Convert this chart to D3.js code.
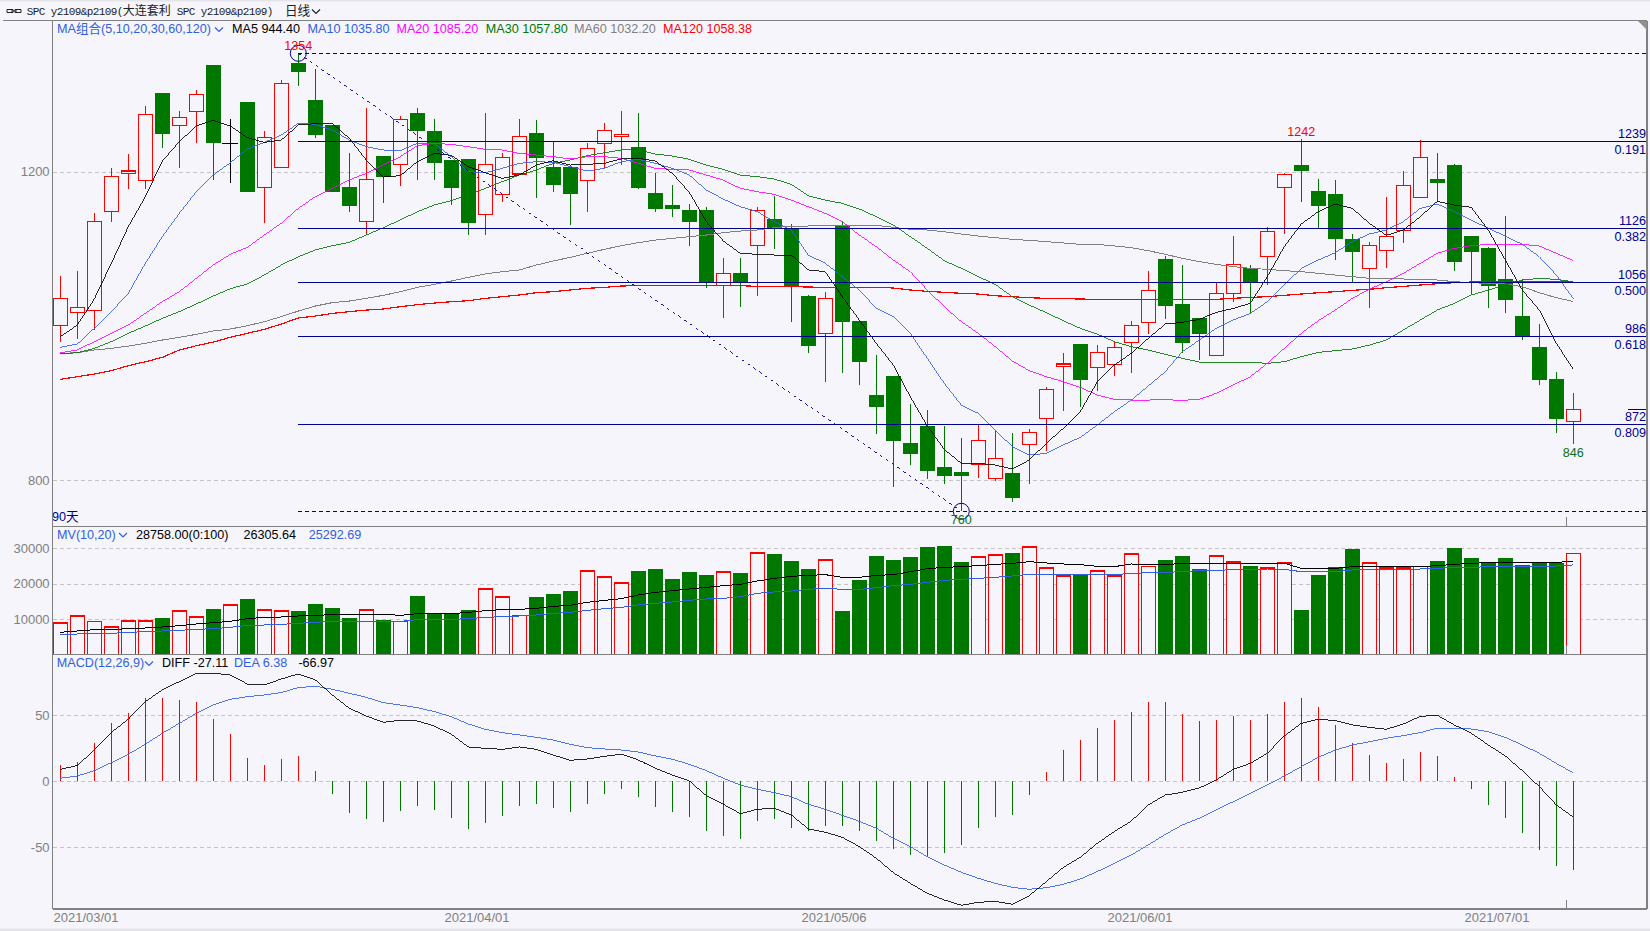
<!DOCTYPE html>
<html><head><meta charset="utf-8">
<script src="https://cdn.jsdelivr.net/npm/d3@7/dist/d3.min.js"></script>
<style>
html,body{margin:0;padding:0;background:#f5f5fb;overflow:hidden}
svg{display:block}
text{font-family:"Liberation Sans","Noto Sans CJK SC",sans-serif;font-size:12.6px}
.tick text{fill:#808080;font-size:13px;font-weight:normal}
</style></head><body><svg id="c" width="1650" height="931"></svg>
<script>
const opens=[1001,1017.6,1020,1149,1197.9,1189.2,1302.5,1260.6,1278.7,1338.8,
1237.2,1290.8,1180.1,1206,1341.4,1293.4,1260.6,1180.6,1136,1220.8,
1210,1276.5,1253.2,1215.6,1216.9,1145.1,1171,1197.4,1250.6,1206.5,
1206.5,1189.2,1237.2,1246.3,1232.5,1172.8,1157.2,1150.8,1150.8,1052.6,
1068.6,1105,1139.1,1127,1039.2,990.8,1131.7,1006.8,910.8,935.4,
848.5,870.6,817.4,810.9,820.9,802.3,809.6,846.8,880.5,948,
976.9,946.7,950.6,979.1,1004.6,1087.2,1028.8,1010.7,962.2,1042.7,
1075.1,1090.2,1180.1,1209.1,1175.4,1171.5,1113.1,1075.1,1098.4,1124.4,
1167.2,1190.9,1209.1,1117,1101.5,1060.8,1013.2,973,931.5,876.6];
const closes=[1036,1024.5,1136,1194.4,1201.3,1274.8,1249.7,1270.9,1300.8,1238.1,
1237.2,1174.5,1245,1315,1330.2,1248.4,1174.5,1156.4,1190.5,1194,
1268.3,1253.6,1212.1,1179.7,1134.3,1210,1219,1246.3,1218.6,1183.6,
1171.9,1230.7,1254.1,1248.9,1179.7,1152.5,1152.5,1135.6,1056.9,1068.6,
1056.9,1150.3,1127,1052.6,974.8,1036.2,1005.9,954,895.7,851.6,
834.7,812.7,806.2,806.2,852,828.7,777.6,862.4,918.1,951,
930.7,966.1,972.6,1001.1,1046.6,1026.7,978.7,990.3,1042.7,1080.3,
1056.9,1123.1,1197,1201.3,1156.4,1113.1,1096.7,1105,1116.6,1182.7,
1219,1186.2,1083.7,1096.7,1052.6,1034.5,985.6,930.7,880.1,892.2];
const highs=[1065,1071.6,1146.4,1205,1224,1285.6,1302.5,1279,1306.4,1338.8,
1268.8,1290.8,1253.2,1319.3,1354,1333.6,1260.6,1224.2,1283,1220.8,
1272.2,1283,1268.8,1215.6,1216.9,1276.5,1224.2,1268.8,1267.5,1239.8,
1206.5,1237.2,1263.1,1278.7,1276.5,1198.7,1183.2,1158.5,1154.6,1088.5,
1088.5,1154.2,1169.3,1132.6,1040.5,1044,1135.6,1006.8,962.7,935.4,
899.1,891.3,870.6,855,872.8,865.4,861.5,866.7,920.7,965.3,
976.9,975.6,980,1006.8,1071.6,1091.5,1079.4,1010.7,1056.5,1117,
1079.4,1128.3,1198.3,1242.4,1191,1189.7,1119.6,1108.8,1167.6,1201.3,
1241.1,1224.7,1210.4,1117,1102.8,1143,1060.8,1002.9,940.6,913.4];
const lows=[979,983.4,995,1135.6,1178.4,1178.4,1231.6,1205.6,1238.1,1189.7,
1186.2,1174.5,1134.3,1206,1312,1244.1,1174.5,1148.6,1119.2,1160.3,
1182.3,1189.7,1189.7,1157.2,1118.8,1118.8,1161.6,1197.4,1166.7,1174.5,
1131.7,1148.6,1205.6,1209.5,1178.4,1148.6,1142.1,1104.5,1050,1010.2,
1024.5,1039.6,1100.6,1005.9,964.8,928.1,939.8,924.2,860.6,791.9,
820.4,801.9,795.8,760,803.6,799.3,772.5,795.8,838.6,890,
895.7,916.4,935.9,939.8,990.3,1009.8,965.7,956.2,962.2,1031.9,
1016.7,1053.5,1119.6,1161.6,1127,1085.9,1056.9,1024.1,1075.5,1108.4,
1167.2,1161.6,1071.6,1041.8,1024.1,1017.6,982.6,924.2,861.9,846.8];
const ma5=[986.4,1001.6,1035.3,1081.6,1129.1,1168,1214.3,1239.4,1259.7,1267,
1259.7,1244.6,1238.5,1241.5,1261,1262.7,1263.1,1243.7,1215.6,1193.5,
1195.3,1213.4,1224.2,1221.6,1207,1199.2,1191.8,1196.1,1209.1,1214.7,
1209.1,1210,1211.3,1216.9,1217.8,1214.3,1198.3,1173.7,1135.6,1110.6,
1094.5,1093.3,1092.4,1092.4,1073,1070.8,1038.3,1008.1,977.8,949.7,
908.6,870.6,840.3,822.2,822.2,820,814.8,826.5,848.1,867.6,
889.2,928.1,949.7,964.8,984.3,1002.9,1005,1008.9,1018,1023.2,
1029.7,1064.3,1103.2,1132.6,1148.6,1158.5,1152.9,1133.5,1117.9,1124.8,
1142.1,1162,1157.2,1154.2,1124.8,1085.9,1047,1021,977.8,944.4];
const ma10=[972.6,976.9,997.3,1018.9,1042.7,1081.6,1116.2,1146.4,1174.5,1196.1,
1212.1,1229.9,1238.5,1248,1263.1,1261.8,1254.5,1241.5,1232.9,1228.6,
1227.7,1237.2,1237.2,1219.9,1200.5,1199.2,1204.8,1211.3,1213.4,1212.6,
1207,1201.3,1204.8,1213.4,1216.5,1211.3,1204.8,1196.1,1176.7,1165,
1155,1148.6,1135.6,1124.8,1092.4,1081.6,1064.3,1047,1023.2,1012.4,
990.8,958.3,925.9,897.8,887,865.4,843.8,833,835.1,846,
855.9,871.9,889.2,904.3,922.5,941.1,967,982.1,997.3,1008.1,
1016.7,1031.8,1053.5,1075.1,1085.9,1095.4,1109.7,1119.6,1124.8,1135.6,
1152.9,1158.5,1148.6,1137.8,1127,1117,1106.2,1090.2,1066.4,1035.8];
const ma20=[965.7,969.2,980,990.8,1001.6,1016.7,1031.9,1044.8,1062.1,1079.4,
1093.3,1102.3,1118.3,1133.5,1152.9,1168,1178.8,1189.7,1198.3,1209.1,
1219.9,1234.2,1237.2,1235.9,1232.9,1229.4,1228.6,1224.2,1222.1,1219.9,
1216.9,1219.9,1219.9,1217.8,1211.3,1204.8,1203.5,1202.6,1196.1,1189.7,
1178.8,1174.5,1171.1,1163.7,1155,1146.4,1135.6,1118.3,1103.2,1085.9,
1070.8,1047,1025.4,1005.9,990.8,973.5,954.9,942.4,934.6,928.1,
920.7,910.8,905.2,904.3,904.3,904.7,903.9,905.2,913,923.8,
934.6,951.9,971.3,990.8,1007.2,1021,1036.2,1047.9,1057.8,1068.6,
1081.6,1094.6,1101,1104.5,1106.2,1106.2,1106.2,1104.1,1094.6,1085.2];
const ma30=[964,965.7,971.3,980,990.8,1000.3,1010.2,1018.9,1028.8,1039.2,
1048.7,1054.8,1066.4,1079.4,1090.2,1098.9,1104.5,1108.8,1118.3,1127.8,
1137.8,1148.6,1157.2,1162.9,1170.2,1178.8,1187.5,1196.1,1202.6,1211.3,
1215.6,1221.2,1225.1,1228.6,1228.6,1223.4,1220.8,1216.5,1209.1,1203.5,
1196.1,1194,1190.9,1184,1169.3,1163.7,1159.4,1152.1,1142.1,1131.3,
1116.2,1101,1085,1075.1,1064.3,1054.3,1038.3,1027.5,1017.6,1007.2,
997.3,989.9,980,973.5,969.2,963.5,958.3,953.6,953.2,953.2,
953.2,951.9,954,960.5,966.1,968.3,970.5,975.6,982.1,995.1,
1008.1,1021,1029.7,1040.5,1047,1053.5,1060,1062.1,1060.8,1057.8];
const ma60=[964.8,965.7,969.2,971.3,974.3,977.8,982.1,985.6,989.5,993.8,
996.4,1000.7,1005.9,1012.4,1019.7,1026.2,1030.6,1032.7,1036.2,1040.1,
1044.8,1050.4,1054.3,1058.6,1063.4,1067.8,1070.8,1072.9,1079.4,1084.6,
1089.4,1094.6,1099.7,1104.5,1108.4,1111.8,1114,1116.2,1118.3,1121.4,
1123.5,1124.8,1127.8,1130,1130,1130.9,1131.3,1130.9,1130.9,1128.3,
1125.7,1124.8,1122.6,1119.6,1117,1114.9,1112.7,1111.4,1109.7,1108,
1106.2,1106.2,1104.1,1101.9,1098,1093.3,1088.1,1083.8,1080.3,1077.3,
1075.1,1073.8,1072.1,1070.8,1068.6,1066.4,1064.3,1062.1,1061.7,1061.3,
1060.8,1060,1057.8,1056.5,1055.6,1054.8,1051.3,1043.5,1037,1032.2];
const ma120=[931.1,934.6,938,942.4,948.8,954,959.6,969.2,974.8,979.5,
985.6,990.8,996,1002.9,1010.7,1013.2,1016.7,1018.9,1021,1022.3,
1025.4,1028,1030.1,1031.8,1033.1,1036.2,1038.3,1040.5,1043.5,1044.8,
1047,1049.2,1050.4,1052.2,1052.6,1052.6,1052.6,1052.6,1052.6,1052.6,
1052.6,1051.7,1051.3,1051.3,1050.9,1050.4,1050.4,1050.4,1050.4,1049.6,
1047,1045.3,1044,1042.7,1041.8,1039.6,1038.3,1037,1036.2,1035.8,
1035.3,1034.9,1034.9,1034.9,1034.9,1034.9,1034.9,1034.9,1034.9,1036.2,
1037.5,1038.3,1040.1,1041.8,1043.5,1044.8,1046.6,1047.9,1050,1051.7,
1053.5,1055.2,1056.5,1057.4,1057.8,1058.2,1058.4,1058.4,1058.4,1058.4];
const volumes=[9047,11028,9424,7914,9613,9613,10555,12443,10745,13103,
14141,15934,12726,12443,12537,14519,13387,10555,12726,9990,
9424,16785,11971,11594,12820,18670,16406,11122,16500,17350,
18200,23765,22067,20368,23859,24425,21595,23576,22727,23482,
23293,28860,28671,26690,24425,26879,12537,21311,28105,26973,
27822,30653,30936,26409,27727,28293,28954,30559,24614,22350,
23010,23765,22350,28577,24990,26973,28105,24425,28011,26312,
25085,24614,26030,12820,22727,24990,30087,26030,24614,24614,
25085,26690,30370,27539,26124,27539,25557,25935,26030,28758];
const mv10=[6217,6594,6971,6971,7254,7443,7726,8104,8575,8953,
9330,10085,10462,10556,10840,11028,11217,11312,11312,11312,
11028,11500,11500,11500,11878,12350,12632,12727,13010,13576,
13859,14708,15274,15746,16785,17538,18010,18482,18954,19426,
19803,20747,21500,22067,22350,22539,21784,21784,22350,22539,
23388,24237,24614,24803,25086,25463,25747,26218,25842,25557,
25368,24896,24803,25557,25274,25368,25747,25557,25747,25747,
25747,25747,25747,24332,24332,24332,24803,24803,24803,24803,
24803,25086,25463,25747,25935,25935,25935,25935,26030,26305];
const mv20=[5461,5744,5933,5933,6217,6405,6594,6783,7066,7254,
7632,8198,8292,8481,8764,9047,9330,9330,9330,9424,
9330,9802,9802,9802,10179,10368,10745,10840,11122,11594,
11878,12443,12915,13292,13953,14425,14802,15274,15651,15840,
16312,17255,17632,17916,18388,18670,18388,18388,18859,19426,
19803,20368,20934,21217,21500,21784,22161,22633,22633,22633,
22633,22633,22633,22822,23105,23199,23388,23671,23671,24048,
24048,24143,24048,23388,23388,23388,23859,24048,24048,24048,
24143,24332,24614,24614,24803,24803,24803,24803,24992,25292];
const diff=[9.1,11.9,23.7,37.1,47,60.4,69.2,75.5,81.8,81.8,
80.6,73.7,73,77.5,81.3,76.8,65.4,55.3,49.5,44.7,
46.2,45.7,41.9,35.6,26,25,24.2,26,24.2,19.9,
15.9,16.9,18.9,20.5,16.2,9.8,4.8,0.3,-10.9,-17.4,
-24.5,-21.2,-20.5,-25.5,-36.1,-38.6,-42.4,-49.5,-58.3,-69.2,
-77.3,-84.8,-89.9,-93.9,-91.7,-90.9,-93.2,-86.6,-76,-65.2,
-57.6,-47,-38.1,-30.1,-17.9,-10.4,-8.3,-5.1,1,9.1,
13.6,21.2,34.3,43.9,47,46,42.7,40.9,39.4,43.4,
49.2,50,42.7,36.4,27.5,19.2,8.1,-4,-17.9,-27.11];
const dea=[2.3,4,8.1,14.1,20.5,28,36.4,43.9,51.5,57.8,
62.1,64.1,65.4,67.2,71,72,69.7,66.7,63.6,59.6,
57.8,55.8,52.8,49,43.4,39.4,36.9,35.1,33.3,31.3,
28,25.5,24.5,23.7,22.2,19.2,16.7,12.9,8.1,2.3,
-2.8,-6.1,-8.6,-11.6,-17.4,-21.2,-25.8,-30.3,-35.6,-43.2,
-49.5,-57.1,-63.4,-68.9,-73.5,-77.3,-80.3,-81.8,-80.6,-78,
-74,-68.4,-62.1,-55.8,-48.2,-40.2,-33.1,-28,-21.7,-15.4,
-9.1,-2.8,4,11.1,18.2,23.7,27.5,30,32.6,34.6,
36.9,40.2,40.2,39.6,37.6,33.3,27.5,21.2,13.6,6.38];
const macdHist=[12.4,14.4,29,44.2,51.5,63.1,63.1,61.6,60.4,47.2,
35.9,17.7,12.4,16.9,19.2,7.8,-9.6,-24,-28.3,-30.6,
-22.2,-18.7,-21.7,-27.5,-36.1,-31.3,-26,-18.4,-17.2,-19.9,
-23,-17.2,-9.6,-5.8,-11.6,-19.4,-23,-26.8,-37.4,-41.2,
-43.4,-29.8,-28.8,-35.6,-37.6,-33.6,-33.6,-37.6,-44.9,-51.5,
-55.6,-56.3,-54,-48,-35.1,-26.8,-25.3,-10.1,7.1,23.7,
31.3,40.4,46.5,52.5,60.1,60.1,51,45.7,46.5,49.5,
46.5,51,60.1,63.1,56.3,42.7,28.8,19.9,13.9,16.9,
22.2,19.2,3.3,-5.6,-17.9,-27.5,-38.9,-51.8,-63.9,-66.97];
const dateTicks=[0,23,44,62,83];
const dateLabels=["2021/03/01","2021/04/01","2021/05/06","2021/06/01","2021/07/01"];
const fibRatios=[0.191,0.382,0.5,0.618,0.809];
const fibValues=[1239,1126,1056,986,872];
const priceHigh=1354, priceLow=760;
const priceTicks=[1200,800], volumeTicks=[10000,20000,30000], macdTicks=[50,0,-50];

const RED="#ff0000",GRN="#007800",NAVY="#000090",BLUE="#3060e0",GRAY="#808080",MAG="#ff00ff";
const svg=d3.select("#c");
const L=52.6,R=1647;
const x=d3.scaleLinear().domain([0,89]).range([60.3,1573.3]);
const yP=d3.scaleLinear().domain([priceLow,priceHigh]).range([511.3,53.3]);
const yV=d3.scaleLinear().domain([0,30000]).range([654.3,548.3]);
const yM=d3.scaleLinear().domain([-50,50]).range([847.3,715.3]);

svg.append("rect").attr("width",1650).attr("height",931).attr("fill","#f5f5fb");
svg.append("rect").attr("width",1650).attr("height",1.5).attr("fill","#e4e4ea");
svg.append("rect").attr("y",928.5).attr("width",1650).attr("height",2.5).attr("fill","#e4e4ea");

function yAxis(scale,ticks,dy){
  const g=svg.append("g").attr("transform",`translate(${L},${dy||0})`)
    .call(d3.axisLeft(scale).tickValues(ticks).tickSize(-(R-L)).tickPadding(3).tickFormat(String));
  g.select(".domain").remove();
  g.selectAll("line").attr("stroke","#c4c4c4").attr("stroke-dasharray","4,3").attr("shape-rendering","crispEdges");
  return g;
}
yAxis(yP,priceTicks,-0.5); yAxis(yV,volumeTicks); yAxis(yM,macdTicks);

const line=(y,data)=>d3.line().x((d,i)=>x(i)).y(d=>y(d))(data);

function candleColor(i){return closes[i]===opens[i]?"#000":(closes[i]>opens[i]?RED:GRN);}
const idx=d3.range(opens.length);
const cg=svg.append("g").attr("shape-rendering","crispEdges");
cg.selectAll(".w").data(idx).join("line").attr("class","w")
  .attr("x1",i=>x(i)).attr("x2",i=>x(i)).attr("y1",i=>yP(highs[i])).attr("y2",i=>yP(lows[i]))
  .attr("stroke",candleColor).attr("stroke-width",1.2);
cg.selectAll(".b").data(idx).join("rect").attr("class","b")
  .attr("x",i=>closes[i]>opens[i]?x(i)-7:x(i)-7.5)
  .attr("width",i=>closes[i]>opens[i]?14:15)
  .attr("y",i=>yP(Math.max(opens[i],closes[i])))
  .attr("height",i=>Math.max(closes[i]===opens[i]?0.5:1,Math.abs(yP(opens[i])-yP(closes[i]))))
  .attr("fill",i=>closes[i]>opens[i]?"#f5f5fb":candleColor(i))
  .attr("stroke",i=>closes[i]>opens[i]?RED:(closes[i]===opens[i]?"#000":"none"))
  .attr("stroke-width",1.2);

const mas=[[ma120,RED,1.2],[ma60,GRAY,1],[ma30,GRN,.85],[ma20,MAG,.85],[ma10,BLUE,.85],[ma5,"#000",.85]];
mas.forEach(m=>svg.append("path").attr("d",line(yP,m[0])).attr("fill","none").attr("stroke",m[1]).attr("stroke-width",m[2]).attr("shape-rendering","crispEdges"));

const bx=x(14), fg=svg.append("g");
fibValues.forEach((v,k)=>{
  const yy=Math.floor(yP(priceHigh-(priceHigh-priceLow)*fibRatios[k])+0.6)+.5;
  fg.append("line").attr("x1",bx).attr("x2",R).attr("y1",yy).attr("y2",yy).attr("stroke",NAVY).attr("stroke-width",1).attr("shape-rendering","crispEdges");
  fg.append("text").attr("x",R-1).attr("y",yy-3.5).attr("text-anchor","end").attr("fill",NAVY).text(v);
  fg.append("text").attr("x",R-1).attr("y",yy+12.5).attr("text-anchor","end").attr("fill",NAVY).text(fibRatios[k].toFixed(3));
  if(v===872) fg.append("line").attr("x1",R-19).attr("x2",R-1).attr("y1",yy-15).attr("y2",yy-15).attr("stroke",NAVY).attr("shape-rendering","crispEdges");
});
[priceHigh,priceLow].forEach(p=>fg.append("line").attr("x1",bx).attr("x2",R).attr("y1",Math.floor(yP(p))+.5).attr("y2",Math.floor(yP(p))+.5)
  .attr("stroke",NAVY).attr("stroke-width",1).attr("stroke-dasharray","4,3").attr("shape-rendering","crispEdges"));
const ex=x(53);
fg.append("line").attr("x1",bx).attr("y1",yP(priceHigh)).attr("x2",ex).attr("y2",yP(priceLow))
  .attr("stroke",NAVY).attr("stroke-width",.9).attr("stroke-dasharray","3,4").attr("shape-rendering","crispEdges");
[[bx,priceHigh],[ex,priceLow]].forEach(d=>fg.append("circle").attr("cx",d[0]).attr("cy",yP(d[1])).attr("r",8)
  .attr("fill","none").attr("stroke",NAVY).attr("stroke-width",1));

function label(tx,ty,s,col,anchor){return svg.append("text").attr("x",tx).attr("y",ty+1).attr("dominant-baseline","middle")
  .attr("text-anchor",anchor||"start").attr("fill",col).text(s);}
label(bx,46,"1354",RED,"middle");
label(ex,519.5,"760","#0a6f20","middle");
label(x(73),132,"1242",RED,"middle");
label(x(89),452.5,"846","#0a6f20","middle");
label(52,517,"90天",NAVY);

const vg=svg.append("g").attr("shape-rendering","crispEdges");
vg.selectAll("rect").data(idx).join("rect")
  .attr("x",i=>closes[i]>=opens[i]?x(i)-7:x(i)-7.5)
  .attr("width",i=>closes[i]>=opens[i]?14:15)
  .attr("y",i=>yV(volumes[i])+0.6).attr("height",i=>yV(0)-yV(volumes[i])-0.6)
  .attr("fill",i=>closes[i]>=opens[i]?"#f5f5fb":GRN)
  .attr("stroke",i=>closes[i]>=opens[i]?RED:"none").attr("stroke-width",1.2);
[[mv20,BLUE],[mv10,"#000"]].forEach(m=>svg.append("path").attr("d",line(yV,m[0])).attr("fill","none").attr("stroke",m[1]).attr("stroke-width",1).attr("shape-rendering","crispEdges"));

const mg=svg.append("g").attr("shape-rendering","crispEdges");
mg.selectAll("line").data(idx).join("line")
  .attr("x1",i=>x(i)).attr("x2",i=>x(i)).attr("y1",yM(0)).attr("y2",i=>yM(macdHist[i]))
  .attr("stroke",i=>macdHist[i]>=0?RED:GRN).attr("stroke-width",1);
[[dea,BLUE],[diff,"#000"]].forEach(m=>svg.append("path").attr("d",line(yM,m[0])).attr("fill","none").attr("stroke",m[1]).attr("stroke-width",.85).attr("shape-rendering","crispEdges"));

const xa=svg.append("g").attr("transform","translate(0,909)")
  .call(d3.axisBottom(x).tickValues(dateTicks).tickSize(0).tickPadding(4).tickFormat(d=>dateLabels[dateTicks.indexOf(d)]));
xa.select(".domain").remove();
xa.selectAll("text").attr("text-anchor","start").attr("dx",-7.3);

const fr=svg.append("g").attr("stroke",GRAY).attr("fill","none").attr("stroke-width",1.3).attr("shape-rendering","crispEdges");
fr.append("path").attr("d",`M2.5,20.5H${R}M${L},20.5V909M${R},20.5V909M${L},526.3H${R}M${L},654.3H${R}M${L},909H${R}`);
const tk=x(88)+10.3;
fr.append("path").attr("d",`M${tk},517V526M${tk},645V654M${tk},900V909`).attr("stroke-width",1);
svg.append("path").attr("d",`M${R-9},21H${R}V30Z`).attr("fill","#909090");

function chevron(cx,cy,col){svg.append("path").attr("d",`M${cx-4},${cy-2}L${cx},${cy+2}L${cx+4},${cy-2}`).attr("fill","none").attr("stroke",col).attr("stroke-width",1.2);}
svg.append("path").attr("d","M7,9.5H13V12.5H7ZM15,9.5H21V12.5H15ZM11,11H17").attr("fill","none").attr("stroke","#222").attr("stroke-width",1);
const hd=svg.append("text").attr("x",26.7).attr("y",12).attr("dominant-baseline","middle").attr("fill","#222");
hd.append("tspan").style("font-family","'Liberation Mono'").style("font-size","11px").style("letter-spacing","-0.6px").text("SPC y2109&p2109(");
hd.append("tspan").style("font-size","12px").text("大连套利");
hd.append("tspan").style("font-family","'Liberation Mono'").style("font-size","11px").style("letter-spacing","-0.6px").text("\u00a0SPC y2109&p2109)");
label(285,10.5,"日线","#222"); chevron(316,11.5,"#222");

label(57,28.7,"MA组合(5,10,20,30,60,120)",BLUE); chevron(219,29.5,BLUE);
label(232,28.7,"MA5 944.40","#000");
label(307.6,28.7,"MA10 1035.80",BLUE);
label(396.4,28.7,"MA20 1085.20",MAG);
label(485.8,28.7,"MA30 1057.80",GRN);
label(573.9,28.7,"MA60 1032.20",GRAY);
label(663,28.7,"MA120 1058.38",RED);

label(57,534.3,"MV(10,20)",BLUE); chevron(123,535,BLUE);
label(136,534.3,"28758.00(0:100)","#000");
label(243.4,534.3,"26305.64","#000");
label(308.7,534.3,"25292.69",BLUE);

label(56.8,662.7,"MACD(12,26,9)",BLUE); chevron(149,663.5,BLUE);
label(162,662.7,"DIFF -27.11","#000");
label(234,662.7,"DEA 6.38",BLUE);
label(298.4,662.7,"-66.97","#000");
</script></body></html>
